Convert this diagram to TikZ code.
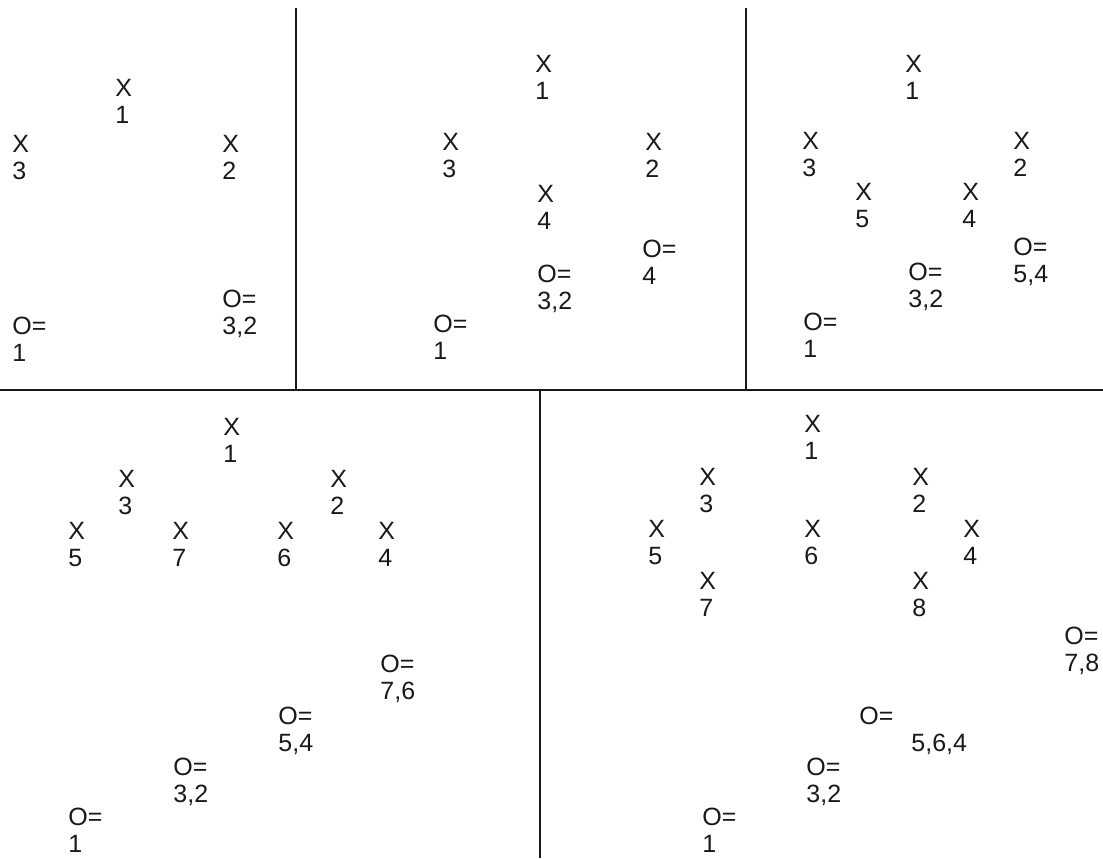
\documentclass[tikz,border=0pt]{standalone}
\usepackage{fontspec}
\setmainfont{Liberation Sans}
\usepackage{tikz}
\usetikzlibrary{positioning}
\definecolor{inkgray}{RGB}{25,25,25}

\tikzset{
  lbl/.style={anchor=north west,inner sep=0pt,align=left,text=inkgray,
    font=\fontsize{12.5}{13.5}\selectfont},
  rule/.style={line width=0.8pt,inkgray}
}

\begin{document}
\begin{tikzpicture}[x=0.5pt,y=-0.5pt]
\useasboundingbox (0,0) rectangle (1103,858);
% Frames
\draw[rule] (0,390)--(1103,390);
\draw[rule] (296,8)--(296,390);
\draw[rule] (746,8)--(746,390);
\draw[rule] (540,390)--(540,858);
% Panel a
\foreach \n/\x/\y in {1/115/79, 3/12/135, 2/222/135}
  \node[lbl] (a\n) at (\x,\y) {X\\\n};
\node[lbl] (ao1) at (12,317) {O=\\1};
\node[lbl] (ao2) at (222,290) {O=\\3,2};
% Panel b
\foreach \n/\x/\y in {1/535/55, 3/442/133, 2/645/133, 4/537/185}
  \node[lbl] (b\n) at (\x,\y) {X\\\n};
\node[lbl] (bo3) at (642,240) {O=\\4};
\node[lbl] (bo2) at (537,265) {O=\\3,2};
\node[lbl] (bo1) at (433,315) {O=\\1};
% Panel c
\foreach \n/\x/\y in {1/905/55, 3/802/132, 2/1013/132, 5/855/183, 4/962/183}
  \node[lbl] (c\n) at (\x,\y) {X\\\n};
\node[lbl] (co3) at (1013,238) {O=\\5,4};
\node[lbl] (co2) at (908,263) {O=\\3,2};
\node[lbl] (co1) at (803,313) {O=\\1};
% Panel d
\foreach \n/\x/\y in {1/223/418, 3/118/470, 2/330/470, 5/68/522, 7/172/522, 6/277/522, 4/378/522}
  \node[lbl] (d\n) at (\x,\y) {X\\\n};
\node[lbl] (do4) at (380,655) {O=\\7,6};
\node[lbl] (do3) at (278,707) {O=\\5,4};
\node[lbl] (do2) at (173,758) {O=\\3,2};
\node[lbl] (do1) at (68,808) {O=\\1};
% Panel e
\foreach \n/\x/\y in {1/804/415, 3/699/468, 2/912/468, 5/648/520, 6/804/520, 4/963/520, 7/699/572, 8/912/572}
  \node[lbl] (e\n) at (\x,\y) {X\\\n};
\node[lbl] (eo4) at (1064,627) {O=\\7,8};
\node[lbl] (eo3) at (859,707) {O=\\\hspace*{26pt}5,6,4};
\node[lbl] (eo2) at (806,758) {O=\\3,2};
\node[lbl] (eo1) at (702,808) {O=\\1};
\end{tikzpicture}
\end{document}
